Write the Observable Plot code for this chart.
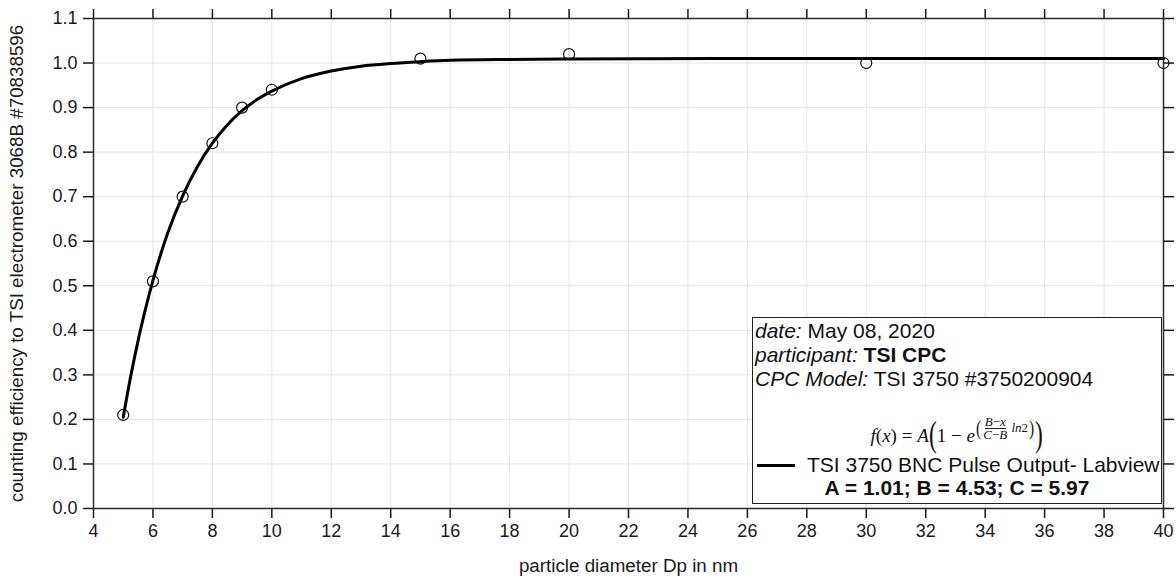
<!DOCTYPE html>
<html>
<head>
<meta charset="utf-8">
<script src="https://cdn.jsdelivr.net/npm/d3@7"></script>
<script src="https://cdn.jsdelivr.net/npm/@observablehq/plot@0.6"></script>
<style>
  html, body { margin: 0; padding: 0; background: white; }
  #wrap { position: relative; width: 1176px; height: 578px; font-family: "Liberation Sans", Arial, sans-serif; color: #111; }
  #legendBox { position: absolute; left: 752px; top: 317px; width: 408px; height: 185px; border: 1.5px solid #222; background: white; }
  .lg { position: absolute; font-size: 21px; line-height: 21px; white-space: nowrap; }
  #formula { position: absolute; left: 752px; width: 410px; top: 419px; height: 34px; display: flex; justify-content: center; align-items: center; font-family: "Liberation Serif", "DejaVu Serif", serif; font-size: 19px; white-space: nowrap; overflow: visible; }
  #formula .big { font-size: 36px; line-height: 32px; height: 32px; display: inline-block; transform: scaleX(0.65) translateY(-2px); margin: 0 -2px; }
  #formula .sup { display: inline-flex; align-items: center; font-size: 13px; transform: translateY(-8px); }
  #formula .p { font-size: 22px; display: inline-block; transform: scaleX(0.7); }
  #formula .frac { display: inline-flex; flex-direction: column; align-items: center; line-height: 12px; margin: 0 1px; }
  #formula .frac span:first-child { border-bottom: 1px solid #222; }
  #sample { position: absolute; left: 757px; top: 463.5px; width: 38px; height: 3px; background: #000; }
</style>
</head>
<body>
<div id="wrap"></div>
<script>
// ---- data ----
const diameters  = [5, 6, 7, 8, 9, 10, 15, 20, 30, 40];
const efficiency = [0.21, 0.51, 0.70, 0.82, 0.90, 0.94, 1.01, 1.02, 1.00, 1.00];

const fitDiameters  = [5, 5.25, 5.5, 5.75, 6, 6.5, 7, 7.5, 8, 8.5, 9, 9.5, 10, 11, 12, 13, 14, 15, 16, 18, 20, 25, 30, 40];
const fitEfficiency = [0.205, 0.296, 0.377, 0.448, 0.512, 0.619, 0.702, 0.768, 0.820, 0.861, 0.893, 0.918, 0.937, 0.965, 0.982, 0.993, 0.999, 1.003, 1.006, 1.008, 1.009, 1.010, 1.010, 1.010];

const xTicks = [4, 6, 8, 10, 12, 14, 16, 18, 20, 22, 24, 26, 28, 30, 32, 34, 36, 38, 40];
const yTicks = [0, 0.1, 0.2, 0.3, 0.4, 0.5, 0.6, 0.7, 0.8, 0.9, 1.0, 1.1];

const xLabel = "particle diameter Dp in nm";
const yLabel = "counting efficiency to TSI electrometer 3068B #70838596";

const points = diameters.map((d, i) => ({d, e: efficiency[i]}));
const fit = fitDiameters.map((d, i) => ({d, e: fitEfficiency[i]}));

const gridStyle = {stroke: "#e4e4e4", strokeOpacity: 1, strokeWidth: 1};
const frameStyle = {stroke: "#2a2a2a", strokeWidth: 1.5};
const tickFont = 18;

const chart = Plot.plot({
  width: 1176,
  height: 578,
  marginLeft: 93,
  marginRight: 13,
  marginTop: 18,
  marginBottom: 70,
  x: {domain: [4, 40]},
  y: {domain: [0, 1.1]},
  style: {fontFamily: "'Liberation Sans', Arial, sans-serif", fontSize: "18px", color: "#1a1a1a", background: "white"},
  marks: [
    Plot.gridX(xTicks, gridStyle),
    Plot.gridY(yTicks, gridStyle),
    Plot.axisX({ticks: xTicks, anchor: "bottom", tickSize: 10, tickPadding: 6, label: null, strokeWidth: 1.5, fontSize: tickFont}),
    Plot.axisX({ticks: xTicks, anchor: "top", tickSize: 10, tickFormat: () => "", label: null, strokeWidth: 1.5}),
    Plot.axisY({ticks: yTicks, anchor: "left", tickSize: 10, tickPadding: 6, tickFormat: d => d.toFixed(1), label: null, strokeWidth: 1.5, fontSize: tickFont}),
    Plot.axisY({ticks: yTicks, anchor: "right", tickSize: 10, tickFormat: () => "", label: null, strokeWidth: 1.5}),
    Plot.ruleY([0], frameStyle),
    Plot.ruleY([1.1], frameStyle),
    Plot.ruleX([4], frameStyle),
    Plot.ruleX([40], frameStyle),
    Plot.line(fit, {x: "d", y: "e", stroke: "#000", strokeWidth: 3, curve: "monotone-x"}),
    Plot.dot(points, {x: "d", y: "e", r: 5.5, stroke: "#111", strokeWidth: 1.2, fill: "none"}),
    Plot.text([xLabel], {frameAnchor: "bottom", dy: 57, textAnchor: "middle", lineAnchor: "middle", fontSize: 18.8, fill: "#1a1a1a"}),
    Plot.text([yLabel], {frameAnchor: "left", rotate: -90, dx: -77, textAnchor: "middle", lineAnchor: "middle", fontSize: 18.8, fill: "#1a1a1a"})
  ]
});

const wrap = document.getElementById("wrap");
wrap.appendChild(chart);
chart.style.position = "absolute";
chart.style.left = "0px";
chart.style.top = "0px";

wrap.insertAdjacentHTML("beforeend", `
  <div id="legendBox"></div>
  <div class="lg" style="left:755px;top:320px;"><i>date:</i> May 08, 2020</div>
  <div class="lg" style="left:755px;top:344px;"><i>participant:</i> <b>TSI CPC</b></div>
  <div class="lg" style="left:755px;top:368px;"><i>CPC Model:</i> TSI 3750 #3750200904</div>
  <div id="formula"><span><i>f</i>(<i>x</i>) = <i>A</i></span><span class="big">(</span><span>1 − <i>e</i></span><span class="sup"><span class="p">(</span><span class="frac"><span><i>B</i>−<i>x</i></span><span><i>C</i>−<i>B</i></span></span>&nbsp;<i>ln</i>2<span class="p">)</span></span><span class="big">)</span></div>
  <div id="sample"></div>
  <div class="lg" style="left:807px;top:454px;">TSI 3750 BNC Pulse Output- Labview</div>
  <div class="lg" style="left:752px;width:410px;text-align:center;top:477px;font-weight:bold;">A = 1.01; B = 4.53; C = 5.97</div>
`);
</script>
</body>
</html>
